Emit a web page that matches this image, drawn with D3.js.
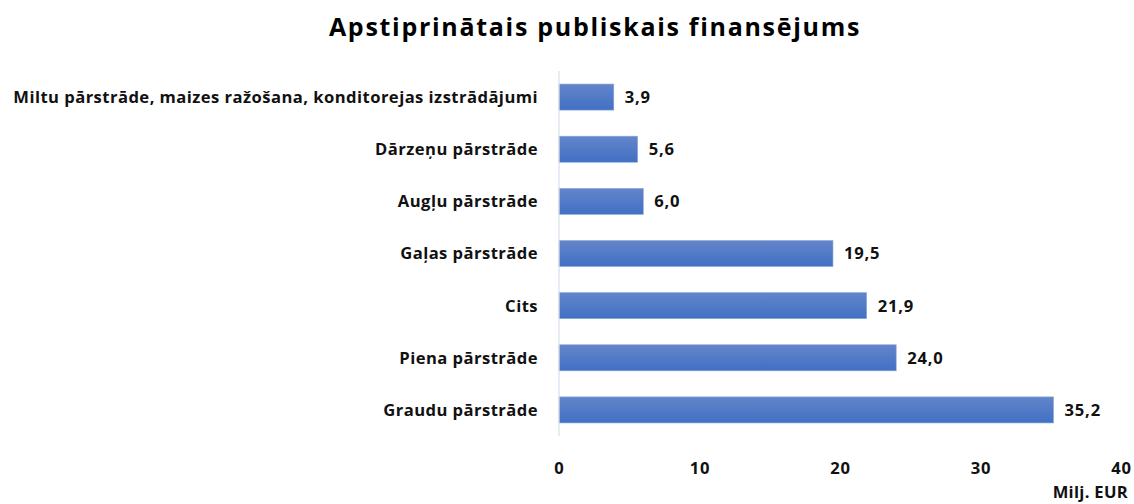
<!DOCTYPE html>
<html><head><meta charset="utf-8">
<script src="https://cdn.jsdelivr.net/npm/d3@7"></script>
<style>body{margin:0;background:#fff}svg{display:block;font-family:"Open Sans",sans-serif}</style>
</head><body><svg id="c" width="1134" height="504"></svg>
<script>
const categories = ["Miltu pārstrāde, maizes ražošana, konditorejas izstrādājumi","Dārzeņu pārstrāde","Augļu pārstrāde","Gaļas pārstrāde","Cits","Piena pārstrāde","Graudu pārstrāde"];
const values = [3.9,5.6,6.0,19.5,21.9,24.0,35.2];
const xTicks = [0,10,20,30,40];
const title = "Apstiprinātais publiskais finansējums";
const unitLabel = "Milj. EUR";

const FS = 16.6, TFS = 25;
const svg = d3.select("#c");
const defs = svg.append("defs");
const g = defs.append("linearGradient").attr("id","bg").attr("x1",0).attr("y1",0).attr("x2",0).attr("y2",1);
g.append("stop").attr("offset","0%").attr("stop-color","#6385CA");
g.append("stop").attr("offset","100%").attr("stop-color","#4170C4");

const x = d3.scaleLinear().domain([0,40]).range([559,1121]);
const y = d3.scaleBand().domain(categories).range([71,436]).paddingInner(0.5).paddingOuter(0.25);

svg.append("text").attr("x",595).attr("y",36).attr("text-anchor","middle")
  .attr("font-size",TFS).attr("font-weight",700).attr("letter-spacing",1.7).attr("fill","#000").text(title);

svg.selectAll("rect.bar").data(values).join("rect").attr("class","bar")
  .attr("x",x(0)).attr("y",(d,i)=>y(categories[i])).attr("width",d=>x(d)-x(0))
  .attr("height",y.bandwidth()).attr("fill","url(#bg)").attr("stroke","#8FAADC").attr("stroke-width",0.6);

svg.append("line").attr("x1",x(0)).attr("x2",x(0)).attr("y1",71).attr("y2",436)
  .attr("stroke","#D9DEEA").attr("stroke-width",1.2);

svg.selectAll("text.cat").data(categories).join("text").attr("class","cat")
  .attr("x",538).attr("y",d=>y(d)+y.bandwidth()/2).attr("dy","0.36em").attr("text-anchor","end")
  .attr("font-size",FS).attr("font-weight",700).attr("letter-spacing",0.45).attr("fill","#111").text(d=>d);

const fmt = v => v.toFixed(1).replace(".",",");
svg.selectAll("text.val").data(values).join("text").attr("class","val")
  .attr("x",d=>x(d)+11).attr("y",(d,i)=>y(categories[i])+y.bandwidth()/2).attr("dy","0.36em")
  .attr("font-size",FS).attr("font-weight",700).attr("letter-spacing",0.8).attr("fill","#111").text(fmt);

const ax = svg.append("g").attr("transform","translate(0,471)")
  .call(d3.axisBottom(x).tickValues(xTicks).tickSize(0).tickFormat(d=>d));
ax.select(".domain").remove();
ax.selectAll("text").attr("font-size",FS).attr("font-weight",700).attr("letter-spacing",0.8).attr("fill","#111").attr("font-family","Open Sans").attr("dy","0");

svg.append("text").attr("x",1128).attr("y",498).attr("text-anchor","end")
  .attr("font-size",FS).attr("font-weight",700).attr("letter-spacing",0.3).attr("fill","#111").text(unitLabel);
</script></body></html>
